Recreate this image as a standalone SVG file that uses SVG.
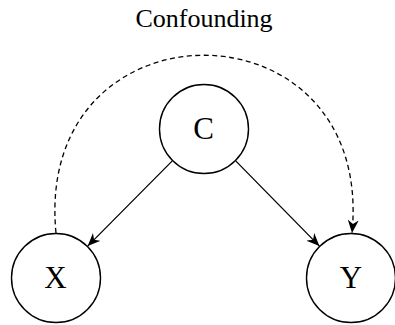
<svg xmlns="http://www.w3.org/2000/svg" width="395" height="325" viewBox="0 0 395 325">
<style>
  .node circle { fill: #ffffff; stroke: #000000; stroke-width: 1.4; }
  .node text { font-family: "Liberation Serif", "Times New Roman", serif; font-size: 31px; text-anchor: middle; fill: #000000; }
  .title { font-family: "Liberation Serif", "Times New Roman", serif; font-size: 26px; text-anchor: middle; fill: #000000; }
  .edge { fill: none; stroke: #000000; stroke-width: 1.3; }
  .dashed { stroke-dasharray: 5 3.5; }
</style>
<defs>
  <marker id="arrow" viewBox="0 0 13 11" refX="13" refY="5.5" markerWidth="13" markerHeight="11" markerUnits="userSpaceOnUse" orient="auto">
    <path d="M0,0 L13,5.5 L0,11 L4,5.5 z" fill="#000000" stroke="none"/>
  </marker>
</defs>
<text class="title" x="204" y="27">Confounding</text>
<g id="connectors">
  <path class="edge" d="M172.3,160.9 L87.7,246.1" marker-end="url(#arrow)"/>
  <path class="edge" d="M235.7,160.9 L319.4,246.1" marker-end="url(#arrow)"/>
  <path class="edge dashed" d="M56,233 C33,-4 375,-4 352,233" marker-end="url(#arrow)"/>
</g>
<g id="node-C" class="node">
  <circle cx="204" cy="129" r="44.5"/>
  <text x="203.5" y="139">C</text>
</g>
<g id="node-X" class="node">
  <circle cx="56" cy="278" r="44.5"/>
  <text x="55.5" y="288">X</text>
</g>
<g id="node-Y" class="node">
  <circle cx="351" cy="278" r="44.5"/>
  <text x="351" y="288">Y</text>
</g>
</svg>
